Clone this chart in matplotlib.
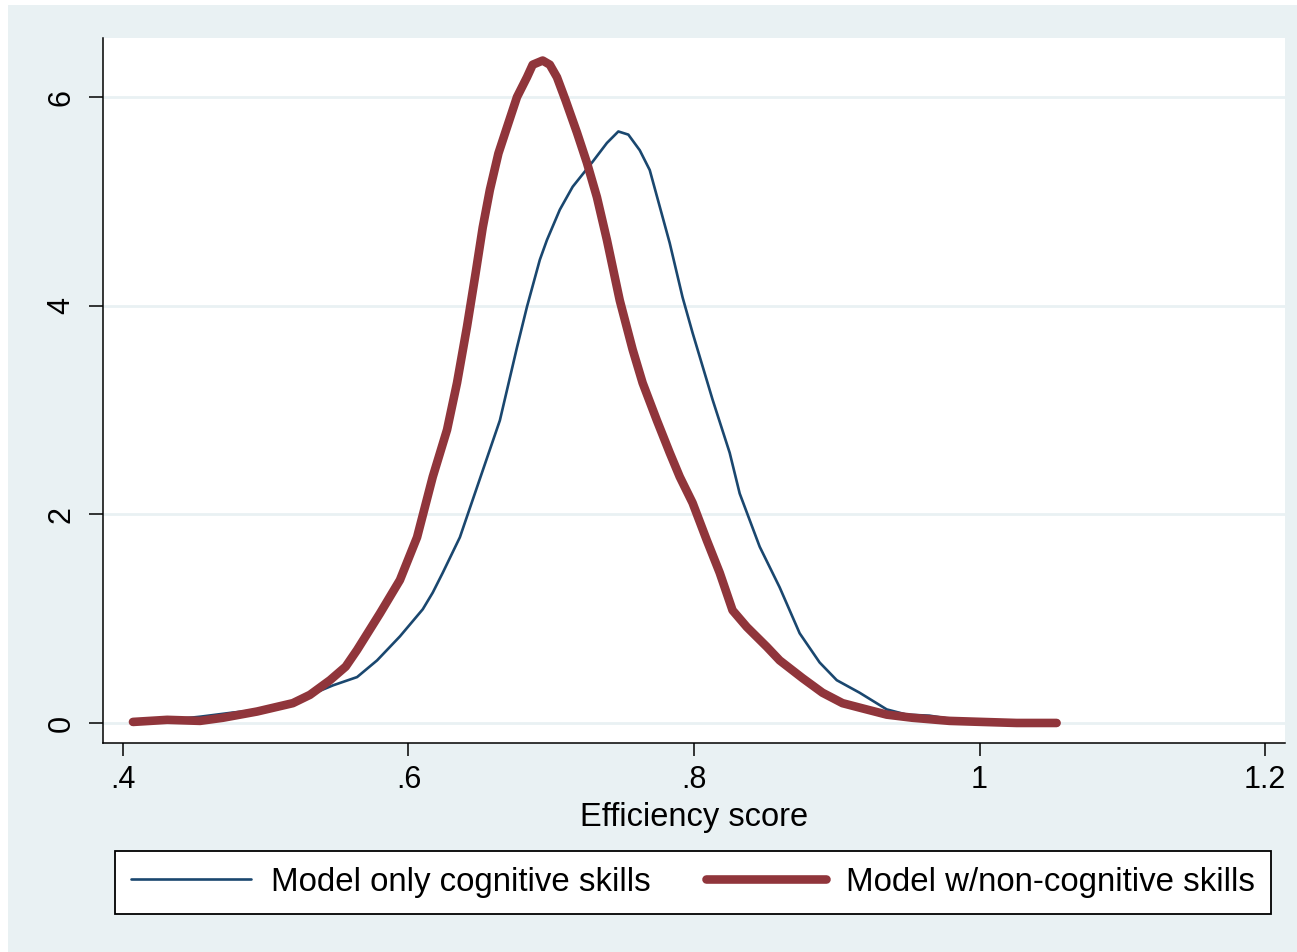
import numpy as np
import matplotlib.pyplot as plt
from matplotlib.patches import Rectangle

plt.rcParams['font.family'] = ['Liberation Sans', 'DejaVu Sans']

# kernel density estimates of the efficiency score
x_cog = [0.408, 0.433, 0.454, 0.477, 0.498, 0.519, 0.533, 0.547, 0.564, 0.578,
         0.594, 0.610, 0.617, 0.624, 0.636, 0.652, 0.664, 0.676, 0.683, 0.692,
         0.697, 0.706, 0.715, 0.729, 0.739, 0.747, 0.754, 0.762, 0.769, 0.776,
         0.783, 0.792, 0.799, 0.813, 0.825, 0.832, 0.846, 0.860, 0.874, 0.888,
         0.900, 0.916, 0.935, 0.949, 0.965, 0.979, 1.002, 1.028, 1.054]
y_cog = [0.02, 0.03, 0.06, 0.10, 0.13, 0.19, 0.28, 0.36, 0.44, 0.60,
         0.83, 1.09, 1.25, 1.44, 1.78, 2.42, 2.90, 3.60, 3.99, 4.44,
         4.63, 4.92, 5.14, 5.38, 5.56, 5.67, 5.64, 5.49, 5.30, 4.95,
         4.60, 4.08, 3.74, 3.10, 2.59, 2.20, 1.69, 1.30, 0.86, 0.58,
         0.41, 0.29, 0.13, 0.08, 0.07, 0.04, 0.01, 0.01, 0.01]

x_noncog = [0.407, 0.431, 0.454, 0.470, 0.494, 0.519, 0.531, 0.545, 0.556, 0.564,
            0.580, 0.594, 0.606, 0.617, 0.627, 0.634, 0.641, 0.647, 0.652, 0.657,
            0.663, 0.669, 0.676, 0.683, 0.687, 0.694, 0.699, 0.704, 0.710, 0.718,
            0.725, 0.732, 0.739, 0.748, 0.757, 0.764, 0.774, 0.783, 0.790, 0.799,
            0.809, 0.818, 0.827, 0.837, 0.851, 0.860, 0.876, 0.890, 0.904, 0.918,
            0.935, 0.953, 0.979, 1.002, 1.026, 1.054]
y_noncog = [0.01, 0.03, 0.02, 0.05, 0.11, 0.19, 0.27, 0.41, 0.54, 0.70,
            1.05, 1.37, 1.78, 2.36, 2.81, 3.26, 3.80, 4.31, 4.75, 5.11,
            5.46, 5.71, 6.00, 6.19, 6.31, 6.35, 6.31, 6.19, 5.97, 5.66,
            5.37, 5.04, 4.63, 4.05, 3.58, 3.26, 2.90, 2.59, 2.36, 2.11,
            1.75, 1.44, 1.08, 0.92, 0.73, 0.60, 0.43, 0.29, 0.19, 0.14,
            0.08, 0.05, 0.02, 0.01, 0.00, 0.00]

xticks = [0.4, 0.6, 0.8, 1.0, 1.2]
xticklabels = ['.4', '.6', '.8', '1', '1.2']
yticks = [0, 2, 4, 6]

navy = '#1a476f'
maroon = '#90353b'
bg = '#e9f1f3'

fig = plt.figure(figsize=(12.97, 9.52), dpi=100, facecolor='white')
# graph region background
fig.patches.append(Rectangle((8/1297, 0), 1 - 8/1297, 1 - 5/952,
                             transform=fig.transFigure, facecolor=bg,
                             edgecolor='none', zorder=-10))

ax = fig.add_axes([103/1297, 1 - 743/952, 1182/1297, 705/952])
ax.set_facecolor('white')

ax.plot(x_cog, y_cog, color=navy, lw=1.9, label='Model only cognitive skills',
        solid_capstyle='round', solid_joinstyle='round')
ax.plot(x_noncog, y_noncog, color=maroon, lw=6.2, label='Model w/non-cognitive skills',
        solid_capstyle='round', solid_joinstyle='round')

ax.set_xlim(0.386, 1.214)
ax.set_ylim(-0.192, 6.566)
ax.set_xticks(xticks)
ax.set_xticklabels(xticklabels)
ax.set_yticks(yticks)
ax.grid(axis='y', color=bg, lw=2)
ax.set_axisbelow(True)

for side in ['top', 'right']:
    ax.spines[side].set_visible(False)
for side in ['left', 'bottom']:
    ax.spines[side].set_linewidth(1.1)
    ax.spines[side].set_color('black')

ax.tick_params(axis='x', direction='out', length=9, width=1.1, labelsize=22, pad=7)
ax.tick_params(axis='y', direction='out', length=10, width=1.1, labelsize=22, pad=9,
               labelrotation=90)
for lab in ax.get_yticklabels():
    lab.set_verticalalignment('center')

ax.set_xlabel('Efficiency score', fontsize=23.5, labelpad=5)

leg = fig.legend(loc='center', bbox_to_anchor=(693/1297, 1 - 882.5/952), ncol=2,
                 fontsize=23.8, frameon=True, fancybox=False, edgecolor='black',
                 framealpha=1, handlelength=3.64, handletextpad=0.6,
                 columnspacing=1.67, borderpad=0.47)
leg.get_frame().set_linewidth(1.3)
leg.get_frame().set_facecolor('white')

fig.savefig('out.png', dpi=100, facecolor=fig.get_facecolor())
